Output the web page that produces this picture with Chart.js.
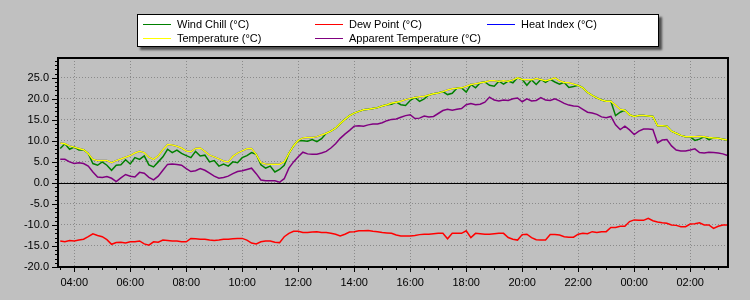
<!DOCTYPE html>
<html>
<head>
<meta charset="utf-8">
<script src="https://cdn.jsdelivr.net/npm/chart.js@4"></script>
<style>
  body { margin: 0; background: #c0c0c0; }
  #wrap { position: relative; width: 750px; height: 300px; }
  #legend {
    position: absolute; left: 137px; top: 14px; width: 520px; height: 31px;
    background: #fff; border: 1px solid #000; box-shadow: 3px 3px 2px #505050;
    font: 11px "Liberation Sans", Arial, sans-serif; color: #000;
  }
  .item { position: absolute; height: 13px; line-height: 13px; white-space: nowrap; }
  .item i { position: absolute; left: 0; top: 6px; width: 28px; height: 1px; }
  .item span { position: absolute; left: 34px; top: 0; }
</style>
</head>
<body>
<div id="wrap">
  <canvas id="chart" width="750" height="300"></canvas>
  <div id="legend"></div>
</div>
<script>
// 10 minute readings, 03:30 -> 03:20 next morning
const startHour = 3.5;
const stepHours = 1 / 6;

const temperature = [
  9.5, 9.3, 8.8,
  8.5, 8.2, 7.9, 7.0, 5.6, 5.3,
  5.3, 5.3, 4.8, 5.3, 5.7, 6.1,
  6.5, 7.1, 7.5, 7.2, 6.1, 5.6,
  6.4, 7.9, 9.1, 9.0, 8.7, 8.3,
  7.6, 7.4, 8.2, 8.3, 7.5, 6.6,
  6.2, 5.7, 5.2, 5.0, 6.3, 7.1,
  7.6, 8.1, 8.2, 6.8, 4.8, 4.5,
  4.45, 4.45, 4.45, 5.0, 7.0, 8.8,
  10.1, 10.7, 10.8, 10.8, 11.0, 11.4,
  11.8, 12.3, 13.0, 14.1, 15.1, 16.0,
  16.6, 17.0, 17.4, 17.5, 17.7, 17.9,
  18.3, 18.6, 19.0, 19.2, 19.4, 19.8,
  20.1, 20.3, 20.5, 20.6, 20.9, 21.2,
  21.4, 21.7, 22.1, 22.4, 22.5, 22.6,
  23.0, 23.4, 23.6, 23.8, 24.0, 24.3,
  24.3, 24.2, 24.3, 24.2, 24.5, 25.0,
  24.6, 24.5, 24.5, 24.8, 24.6, 24.3,
  24.6, 25.0, 24.3, 23.9, 23.8, 23.5,
  23.2, 22.6, 21.5, 20.8, 20.2, 19.7,
  19.4, 19.4, 18.5, 17.5, 17.3, 16.2,
  15.8, 16.0, 16.0, 15.9, 15.8, 13.6,
  13.6, 13.5, 12.3, 11.8, 11.3, 11.0,
  10.95, 11.0, 11.1, 11.0, 10.8, 10.7,
  10.6, 10.4, 10.2
];

const windChill = [
  8.2, 9.3, 8.0,
  8.5, 7.8, 7.9, 7.0, 4.6, 4.2,
  5.0, 4.2, 3.0, 4.2, 4.3, 5.5,
  4.5, 6.0, 5.6, 6.4, 4.3, 3.8,
  5.0, 6.2, 8.0, 7.2, 7.8, 7.0,
  6.5, 6.0, 7.5, 6.4, 6.6, 5.0,
  5.3, 4.0, 4.5, 4.0, 5.0, 4.8,
  6.0, 6.5, 7.2, 6.8, 4.3, 3.5,
  4.0, 2.6, 3.2, 4.2, 7.0, 8.8,
  10.1, 10.0, 9.9, 10.3, 9.8, 10.5,
  11.8, 12.3, 13.0, 14.1, 15.1, 16.0,
  16.6, 17.0, 17.4, 17.5, 17.7, 17.9,
  18.3, 18.6, 18.7, 19.2, 18.6, 18.4,
  19.6, 20.3, 19.4, 20.0, 20.9, 21.2,
  21.4, 21.7, 21.0, 21.3, 22.5, 22.6,
  21.6, 23.4, 22.6, 23.8, 24.0, 23.2,
  23.0, 24.2, 23.5, 24.2, 23.8, 25.0,
  24.6, 23.2, 24.5, 23.4, 24.6, 23.9,
  24.6, 24.0, 23.5, 23.9, 22.7, 22.9,
  23.2, 22.6, 21.5, 20.8, 20.2, 19.7,
  19.4, 19.4, 16.0, 16.8, 17.3, 16.2,
  15.8, 16.0, 16.0, 15.9, 15.8, 13.6,
  13.6, 13.5, 12.3, 11.8, 11.3, 11.0,
  10.95, 10.1, 10.4, 11.0, 10.3, 10.7,
  10.6, 10.4, 10.2
];

const apparentTemp = [
  5.6, 5.6, 5.0,
  4.6, 4.8, 4.6, 4.0, 2.6, 1.4,
  1.3, 1.5, 1.1, 0.3, 1.2, 2.0,
  1.6, 1.4, 2.5, 2.3, 1.3, 0.7,
  1.6, 3.0, 4.4, 4.5, 4.4, 4.2,
  3.4, 2.7, 2.9, 3.4, 3.0, 2.3,
  1.6, 1.1, 1.3, 1.6, 2.2, 2.7,
  2.9, 3.2, 3.5, 2.2, 0.7, 0.5,
  0.5, 0.5, 0.15, 1.0, 3.5, 5.0,
  6.2, 7.3, 6.9, 6.8, 6.8, 7.1,
  7.5, 8.3, 9.3, 10.6, 11.6, 12.5,
  13.5, 13.6, 13.5, 13.8, 14.0, 14.0,
  14.3, 14.8, 15.1, 15.2, 15.6, 16.0,
  16.2, 15.3, 15.4, 15.9, 15.7, 15.8,
  16.5, 17.2, 17.5, 17.3, 17.5, 17.7,
  18.6, 18.9, 18.6, 18.7, 19.2, 20.4,
  19.7, 19.5, 19.7, 19.6, 20.0, 20.2,
  19.3, 20.0, 19.5, 19.6, 20.3, 19.7,
  19.6, 20.0, 19.5, 18.9, 18.5, 18.3,
  18.2, 17.5, 16.8, 16.6, 16.3, 15.7,
  15.5, 15.8, 13.8, 12.7, 13.5, 12.6,
  11.5, 12.3, 12.8, 12.8, 12.7, 9.5,
  10.2, 10.3, 8.8, 7.8, 7.6, 7.6,
  7.8, 8.1, 7.2, 7.1, 7.3, 7.2,
  7.1, 6.9, 6.5
];

const dewPoint = [
  -13.8, -14.0, -13.7,
  -13.8, -13.6, -13.4, -12.8, -12.1, -12.5,
  -12.8, -13.5, -14.6, -14.2, -14.1, -14.3,
  -14.0, -14.0, -13.8, -14.5, -14.8, -14.0,
  -14.1, -13.6, -13.7, -13.8, -13.8, -14.0,
  -14.0, -13.2, -13.3, -13.4, -13.4, -13.6,
  -13.7, -13.6, -13.4, -13.4, -13.3, -13.2,
  -13.2, -13.6, -14.3, -14.5, -14.0, -13.8,
  -13.8, -14.1, -14.2, -12.8, -12.0, -11.5,
  -11.5, -11.8, -11.8, -11.7, -11.6, -11.8,
  -11.8, -12.0, -12.2, -12.6, -12.2, -11.7,
  -11.6, -11.4, -11.4, -11.3, -11.5, -11.6,
  -11.8, -11.9, -12.0, -12.4, -12.6, -12.6,
  -12.6, -12.5, -12.3, -12.2, -12.2, -12.1,
  -12.0, -12.0, -13.3, -12.0, -12.0, -12.0,
  -11.4, -13.0, -12.0, -12.1, -12.2, -12.2,
  -12.1, -12.0, -12.0, -13.0, -13.4, -13.6,
  -12.3, -12.2, -13.0, -13.5, -13.6, -13.6,
  -12.3, -12.3, -12.4, -12.8, -12.9, -12.9,
  -12.2, -12.0, -12.1, -11.6, -11.8, -11.6,
  -11.6, -10.6, -10.6, -10.3, -10.3, -9.2,
  -8.8, -8.9, -8.9, -8.4, -9.0, -9.3,
  -9.5, -9.6, -10.0, -10.1, -10.4, -10.4,
  -9.8, -9.7, -9.5, -10.0, -10.0, -10.8,
  -10.3, -10.0, -10.0
];

// heat index equals temperature at these temperatures, so it sits under the yellow trace
const heatIndex = temperature;

const yTicks = [-20, -15, -10, -5, 0, 5, 10, 15, 20, 25];
const xTicks = [4, 6, 8, 10, 12, 14, 16, 18, 20, 22, 24, 26];

const seriesNames = ['Wind Chill (°C)', 'Dew Point (°C)', 'Heat Index (°C)', 'Temperature (°C)', 'Apparent Temperature (°C)'];
const seriesColors = ['#008000', '#ff0000', '#0000ff', '#ffff00', '#800080'];
const seriesData = [windChill, dewPoint, heatIndex, temperature, apparentTemp];
const drawOrder = [3, 5, 4, 1, 2];

const hours = temperature.map((_, i) => startHour + i * stepHours);

// legend, three columns like the original panel
const legend = document.getElementById('legend');
seriesNames.forEach((name, i) => {
  const col = i % 3, row = Math.floor(i / 3);
  const div = document.createElement('div');
  div.className = 'item';
  div.style.left = (5 + col * 172) + 'px';
  div.style.top = (3 + row * 14) + 'px';
  div.innerHTML = '<i style="background:' + seriesColors[i] + '"></i><span>' + name + '</span>';
  legend.appendChild(div);
});

const pad = n => (n < 10 ? '0' : '') + n;

// zero line, minor ticks and frame
const frame = {
  id: 'frame',
  beforeDatasetsDraw(chart) {
    const {ctx, chartArea: a, scales: {y}} = chart;
    const y0 = Math.round(y.getPixelForValue(0)) + 0.5;
    ctx.save();
    ctx.strokeStyle = '#000';
    ctx.lineWidth = 1;
    ctx.beginPath();
    ctx.moveTo(a.left, y0);
    ctx.lineTo(a.right, y0);
    ctx.stroke();
    ctx.restore();
  },
  afterDraw(chart) {
    const {ctx, chartArea: a, scales: {x, y}} = chart;
    ctx.save();
    ctx.strokeStyle = '#000';
    ctx.lineWidth = 1;
    ctx.beginPath();
    for (let v = -20; v <= 29; v++) {
      const py = Math.round(y.getPixelForValue(v)) + 0.5;
      const len = v % 5 === 0 ? 6 : 3;
      ctx.moveTo(a.left - len, py);
      ctx.lineTo(a.left, py);
    }
    for (let h = 3.5; h <= 27.3; h += 0.5) {
      const px = Math.round(x.getPixelForValue(h)) + 0.5;
      const len = h % 2 === 0 ? 5 : 3;
      ctx.moveTo(px, a.bottom);
      ctx.lineTo(px, a.bottom + len);
    }
    ctx.stroke();
    ctx.lineWidth = 2;
    ctx.strokeRect(a.left, a.top, a.right - a.left, a.bottom - a.top);
    ctx.restore();
  }
};

const ctx = document.getElementById('chart').getContext('2d');
const chart = new Chart(ctx, {
  type: 'line',
  data: {
    datasets: seriesData.map((vals, i) => ({
      label: seriesNames[i],
      data: vals.map((v, j) => ({x: hours[j], y: v})),
      borderColor: seriesColors[i],
      borderWidth: 1.5,
      pointRadius: 0,
      tension: 0,
      order: drawOrder[i]
    }))
  },
  options: {
    responsive: false,
    animation: false,
    layout: {padding: {top: 58, right: 22, left: 0, bottom: 0}},
    plugins: {legend: {display: false}, tooltip: {enabled: false}},
    scales: {
      x: {
        type: 'linear',
        min: 3.42,
        max: 27.35,
        afterBuildTicks: axis => { axis.ticks = xTicks.map(v => ({value: v})); },
        afterFit: axis => { axis.height = 33; },
        grid: {color: '#8a8a8a', drawTicks: false},
        border: {display: false, dash: [1, 2]},
        ticks: {
          padding: 9,
          color: '#000',
          font: {family: 'Liberation Sans', size: 11},
          maxRotation: 0,
          callback: v => pad(v % 24) + ':00'
        }
      },
      y: {
        min: -20,
        max: 29.7,
        afterBuildTicks: axis => { axis.ticks = yTicks.map(v => ({value: v})); },
        afterFit: axis => { axis.width = 58; },
        grid: {color: '#8a8a8a', drawTicks: false},
        border: {display: false, dash: [1, 2]},
        ticks: {
          padding: 9,
          color: '#000',
          font: {family: 'Liberation Sans', size: 11},
          callback: v => v.toFixed(1)
        }
      }
    }
  },
  plugins: [frame]
});
</script>
</body>
</html>
